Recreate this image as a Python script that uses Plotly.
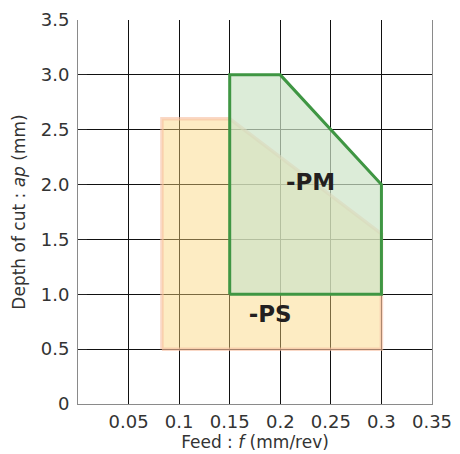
import plotly.graph_objects as go

# axis ticks
feed_ticks = [0.05, 0.1, 0.15, 0.2, 0.25, 0.3, 0.35]
feed_labels = ["0.05", "0.1", "0.15", "0.2", "0.25", "0.3", "0.35"]
depth_ticks = [0, 0.5, 1.0, 1.5, 2.0, 2.5, 3.0, 3.5]
depth_labels = ["0", "0.5", "1.0", "1.5", "2.0", "2.5", "3.0", "3.5"]
feed_grid = [0.05, 0.1, 0.15, 0.2, 0.25, 0.3]
depth_grid = [0.5, 1.0, 1.5, 2.0, 2.5, 3.0]

# chipbreaker ranges (polygons)
ps_feed = [0.083, 0.083, 0.15, 0.30, 0.30, 0.083]
ps_depth = [0.5, 2.6, 2.6, 1.55, 0.5, 0.5]
pm_feed = [0.15, 0.15, 0.20, 0.30, 0.30, 0.15]
pm_depth = [1.0, 3.0, 3.0, 2.0, 1.0, 1.0]

label_text = ["-PM", "-PS"]
label_feed = [0.23, 0.19]
label_depth = [2.0, 0.8]

FONT = "DejaVu Sans"
TEXT = "#333333"

fig = go.Figure()

# PS first, PM fill over it, then the PM outline on top
fig.add_trace(go.Scatter(x=ps_feed, y=ps_depth, mode="lines", fill="toself",
                         fillcolor="rgba(250,212,122,0.45)",
                         line=dict(color="rgba(246,190,160,0.6)", width=3.5),
                         hoverinfo="skip"))
fig.add_trace(go.Scatter(x=pm_feed, y=pm_depth, mode="lines", fill="toself",
                         fillcolor="rgba(205,228,199,0.7)", line=dict(width=0),
                         hoverinfo="skip"))
fig.add_trace(go.Scatter(x=pm_feed, y=pm_depth, mode="lines",
                         line=dict(color="#3f9643", width=3), hoverinfo="skip"))
fig.add_trace(go.Scatter(x=label_feed, y=label_depth, mode="text", text=label_text,
                         textposition="middle center",
                         textfont=dict(family=FONT, size=23, color="#231f20", weight="bold"),
                         hoverinfo="skip"))

# empty trace so the grid-only overlay axes get drawn
fig.add_trace(go.Scatter(x=[], y=[], xaxis="x2", yaxis="y2", hoverinfo="skip"))

# page body adds an 8px offset, so the figure is 8px smaller than the window
fig.update_layout(
    width=452, height=446,
    margin=dict(l=70, r=28, t=12, b=50),
    paper_bgcolor="white", plot_bgcolor="white",
    showlegend=False,
    font=dict(family=FONT, size=18, color=TEXT),
    xaxis=dict(range=[0, 0.35], tickvals=feed_ticks, ticktext=feed_labels,
               showgrid=False, zeroline=False, showline=True, linecolor="#8a8a8a",
               linewidth=1, ticks="", ticklabelstandoff=1, automargin=False,
               ticklabeloverflow="allow",
               title=dict(text="Feed : <i>f</i> (mm/rev)", standoff=0,
                          font=dict(size=17, color=TEXT))),
    yaxis=dict(range=[0, 3.5], tickvals=depth_ticks, ticktext=depth_labels,
               showgrid=False, zeroline=False, showline=True, mirror=True,
               linecolor="#8a8a8a", linewidth=1, ticks="inside", ticklen=9,
               tickcolor="#222222", ticklabelstandoff=4, automargin=False,
               ticklabeloverflow="allow",
               title=dict(text="Depth of cut : <i>ap</i> (mm)", standoff=10,
                          font=dict(size=17, color=TEXT))),
    xaxis2=dict(range=[0, 0.35], overlaying="x", anchor="y2", tickvals=feed_grid,
                showgrid=True, gridcolor="#111111", gridwidth=1, automargin=False,
                showticklabels=False, ticks="", zeroline=False, showline=False),
    yaxis2=dict(range=[0, 3.5], overlaying="y", anchor="x2", tickvals=depth_grid,
                showgrid=True, gridcolor="#111111", gridwidth=1, automargin=False,
                showticklabels=False, ticks="", zeroline=False, showline=False),
)

fig.write_html("out.html")
